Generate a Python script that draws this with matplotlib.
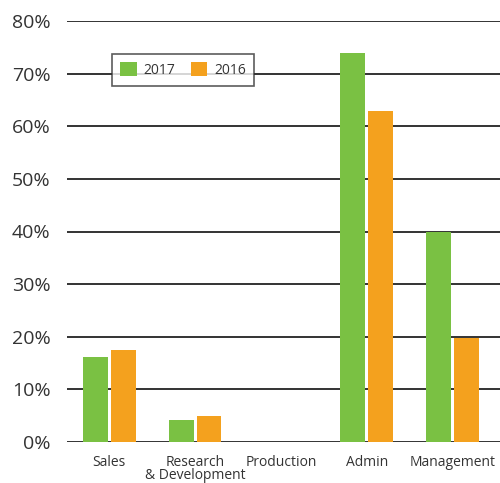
import matplotlib
matplotlib.use("Agg")
import matplotlib.pyplot as plt
import numpy as np

categories = ["Sales", "Research\n& Development", "Production", "Admin", "Management"]
series_2017 = [16.2, 4.2, 0, 74.0, 40.0]
series_2016 = [17.5, 5.0, 0, 62.9, 19.8]
yticks = [0, 10, 20, 30, 40, 50, 60, 70, 80]

plt.rcParams['font.family'] = ['Open Sans', 'DejaVu Sans']

fig = plt.figure(figsize=(5.0, 4.83), dpi=100)
ax = fig.add_axes([67/500, 1 - 442/483, 1 - 67/500, (442 - 21)/483])

x = np.arange(len(categories))
w = 0.29
gap = 0.035
ax.bar(x - w/2 - gap/2, series_2017, width=w, color="#7AC143", label="2017", zorder=3)
ax.bar(x + w/2 + gap/2, series_2016, width=w, color="#F4A11E", label="2016", zorder=3)

ax.set_ylim(0, 80)
ax.set_xlim(-0.49, 4.55)
ax.set_yticks(yticks)
ax.set_yticklabels([f"{v}%" for v in yticks], fontsize=14, color="#333333")
ax.set_xticks(x)
ax.set_xticklabels(categories, fontsize=10, color="#333333", linespacing=0.9)
ax.tick_params(axis='both', length=0)
ax.tick_params(axis='y', pad=12)
ax.tick_params(axis='x', pad=9)
for s in ax.spines.values():
    s.set_visible(False)
ax.grid(axis='y', color="#333333", linewidth=1.4, zorder=0)
ax.set_axisbelow(True)

leg = ax.legend(loc='center', bbox_to_anchor=(183/500, 1 - 70/483), bbox_transform=fig.transFigure,
                ncol=2, frameon=True, fancybox=False, edgecolor="#333333", fontsize=10,
                handlelength=1.2, handleheight=1.2, columnspacing=1.1, handletextpad=0.5,
                borderpad=0.6)
leg.get_frame().set_linewidth(1.2)
for t in leg.get_texts():
    t.set_color("#333333")

fig.savefig("out.png", dpi=100)
